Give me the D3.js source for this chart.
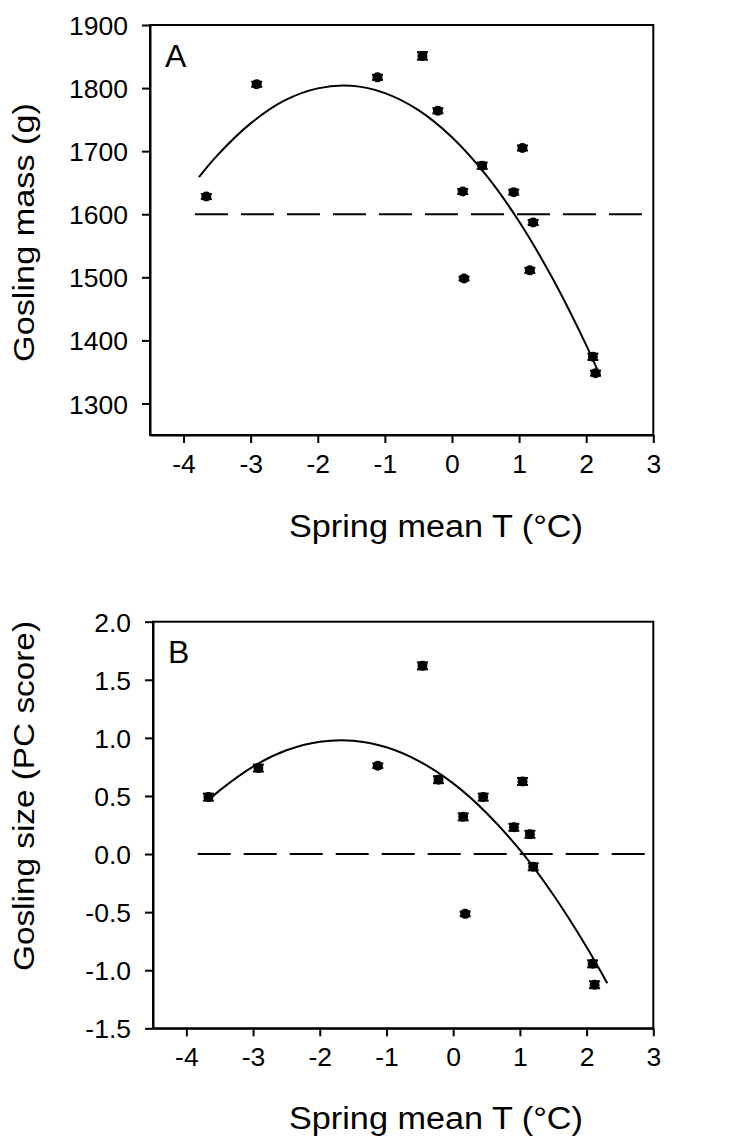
<!DOCTYPE html>
<html>
<head>
<meta charset="utf-8">
<script src="https://cdn.jsdelivr.net/npm/d3@7"></script>
<style>
  html, body { margin: 0; padding: 0; background: #fff; }
  svg { display: block; }
  text { font-family: "Liberation Sans", Arial, sans-serif; fill: #000; }
</style>
</head>
<body>
<svg id="chart" width="731" height="1147"></svg>
<script>
// ---- Data ----
const springT_A = [-3.66, -2.91, -1.11, -0.44, -0.21, 0.16, 0.18, 0.45, 0.92, 1.05, 1.21, 1.16, 2.10, 2.14];
const goslingMass = [1628, 1806, 1817, 1851, 1764, 1636, 1498, 1677, 1635, 1705, 1587, 1511, 1374, 1348];
const goslingMassErr = [4, 4, 4, 6, 4, 4, 3, 5, 4, 4, 4, 4, 5, 4];

const springT_B = [-3.67, -2.92, -1.13, -0.46, -0.22, 0.15, 0.18, 0.45, 0.91, 1.04, 1.15, 1.20, 2.09, 2.12];
const goslingSize = [0.49, 0.74, 0.76, 1.62, 0.64, 0.32, -0.515, 0.49, 0.23, 0.625, 0.17, -0.11, -0.945, -1.125];
const goslingSizeErr = [0.03, 0.03, 0.02, 0.03, 0.03, 0.03, 0.02, 0.03, 0.03, 0.03, 0.03, 0.03, 0.03, 0.03];

// fitted curves
const fitT_A = [-3.77, -3.5, -3.0, -2.5, -2.0, -1.5, -1.0, -0.5, 0.0, 0.5, 1.0, 1.5, 2.0, 2.21];
const fitMass = [1659, 1693, 1744, 1780, 1799.5, 1803.5, 1792, 1765, 1722, 1663, 1588.5, 1498, 1392.5, 1343];
const fitT_B = [-3.67, -3.5, -3.0, -2.5, -2.0, -1.5, -1.0, -0.5, 0.0, 0.5, 1.0, 1.5, 2.0, 2.31];
const fitSize = [0.463, 0.548, 0.753, 0.893, 0.967, 0.976, 0.919, 0.796, 0.608, 0.354, 0.035, -0.350, -0.800, -1.112];

const xTicks = [-4, -3, -2, -1, 0, 1, 2, 3];
const yTicksA = [1300, 1400, 1500, 1600, 1700, 1800, 1900];
const yTicksB = [-1.5, -1.0, -0.5, 0.0, 0.5, 1.0, 1.5, 2.0];
const refA = 1600, refB = 0;
const refStart = -3.83;

const xLabel = "Spring mean T (°C)";
const yLabelA = "Gosling mass (g)";
const yLabelB = "Gosling size (PC score)";

const svg = d3.select("#chart");
const hy = f => (d => f(d).replace("\u2212", "-"));

function panel(cfg) {
  const x = d3.scaleLinear().domain([-4.5, 3]).range([cfg.left, cfg.right]);
  const y = d3.scaleLinear().domain(cfg.yDomain).range([cfg.bottom, cfg.top]);
  const g = svg.append("g");

  // frame (top & right)
  g.append("rect").attr("x", cfg.left).attr("y", cfg.top)
    .attr("width", cfg.right - cfg.left).attr("height", cfg.bottom - cfg.top)
    .attr("fill", "none").attr("stroke", "#000").attr("stroke-width", 2);

  const xAxis = g.append("g").attr("transform", `translate(0,${cfg.bottom})`)
    .call(d3.axisBottom(x).tickValues(xTicks).tickSize(8).tickSizeOuter(0).tickPadding(11).tickFormat(hy(d3.format("d"))));
  const yAxis = g.append("g").attr("transform", `translate(${cfg.left},0)`)
    .call(d3.axisLeft(y).tickValues(cfg.yTicks).tickSize(8).tickSizeOuter(0).tickPadding(14).tickFormat(hy(cfg.fmt)));
  [xAxis, yAxis].forEach(a => {
    a.select(".domain").attr("stroke-width", 2);
    a.selectAll(".tick line").attr("stroke-width", 2);
    a.selectAll("text").style("font-size", "26.5px").attr("fill", "#000");
  });
  xAxis.selectAll("text").attr("dy", "0.71em");
  yAxis.selectAll("text").attr("dy", "0.36em");

  // dashed reference line
  g.append("line").attr("x1", x(refStart)).attr("x2", x(3))
    .attr("y1", y(cfg.ref)).attr("y2", y(cfg.ref))
    .attr("stroke", "#000").attr("stroke-width", 2).attr("stroke-dasharray", "33,13");

  // fitted curve
  const line = d3.line().x(d => x(d[0])).y(d => y(d[1])).curve(d3.curveCatmullRom);
  g.append("path").datum(cfg.fitX.map((v, i) => [v, cfg.fitY[i]]))
    .attr("d", line).attr("fill", "none").attr("stroke", "#000").attr("stroke-width", 2);

  // error bars + points
  const pts = cfg.xs.map((v, i) => ({x: v, y: cfg.ys[i], e: cfg.err[i]}));
  const eb = g.append("g").selectAll("g").data(pts).join("g");
  eb.append("line").attr("x1", d => x(d.x)).attr("x2", d => x(d.x))
    .attr("y1", d => y(d.y - d.e)).attr("y2", d => y(d.y + d.e))
    .attr("stroke", "#000").attr("stroke-width", 2);
  eb.append("line").attr("x1", d => x(d.x) - 5.5).attr("x2", d => x(d.x) + 5.5)
    .attr("y1", d => y(d.y + d.e)).attr("y2", d => y(d.y + d.e))
    .attr("stroke", "#000").attr("stroke-width", 2);
  eb.append("line").attr("x1", d => x(d.x) - 5.5).attr("x2", d => x(d.x) + 5.5)
    .attr("y1", d => y(d.y - d.e)).attr("y2", d => y(d.y - d.e))
    .attr("stroke", "#000").attr("stroke-width", 2);
  g.append("g").selectAll("circle").data(pts).join("circle")
    .attr("cx", d => x(d.x)).attr("cy", d => y(d.y)).attr("r", 5).attr("fill", "#000");

  // panel letter
  g.append("text").attr("x", cfg.left + 15).attr("y", cfg.top + 41.5)
    .style("font-size", "32px").text(cfg.letter);

  // x-axis title
  g.append("text").attr("x", 436).attr("y", cfg.xTitleY).attr("text-anchor", "middle")
    .attr("textLength", 294).attr("lengthAdjust", "spacingAndGlyphs")
    .style("font-size", "31px").text(xLabel);

  // y-axis title
  g.append("text").attr("transform", `translate(34,${cfg.yTitleC}) rotate(-90)`)
    .attr("text-anchor", "middle")
    .attr("textLength", cfg.yTitleLen).attr("lengthAdjust", "spacingAndGlyphs")
    .style("font-size", "30px").text(cfg.yLabel);
}

panel({
  left: 150, right: 653.3, top: 25, bottom: 435,
  yDomain: [1250, 1900], yTicks: yTicksA, fmt: d3.format("d"),
  xs: springT_A, ys: goslingMass, err: goslingMassErr,
  fitX: fitT_A, fitY: fitMass, ref: refA, letter: "A",
  xTitleY: 537, yTitleC: 232.5, yTitleLen: 259, yLabel: yLabelA
});
panel({
  left: 153, right: 653.3, top: 621.7, bottom: 1028.3,
  yDomain: [-1.5, 2.0], yTicks: yTicksB, fmt: d3.format(".1f"),
  xs: springT_B, ys: goslingSize, err: goslingSizeErr,
  fitX: fitT_B, fitY: fitSize, ref: refB, letter: "B",
  xTitleY: 1129, yTitleC: 796, yTitleLen: 350, yLabel: yLabelB
});
</script>
</body>
</html>
